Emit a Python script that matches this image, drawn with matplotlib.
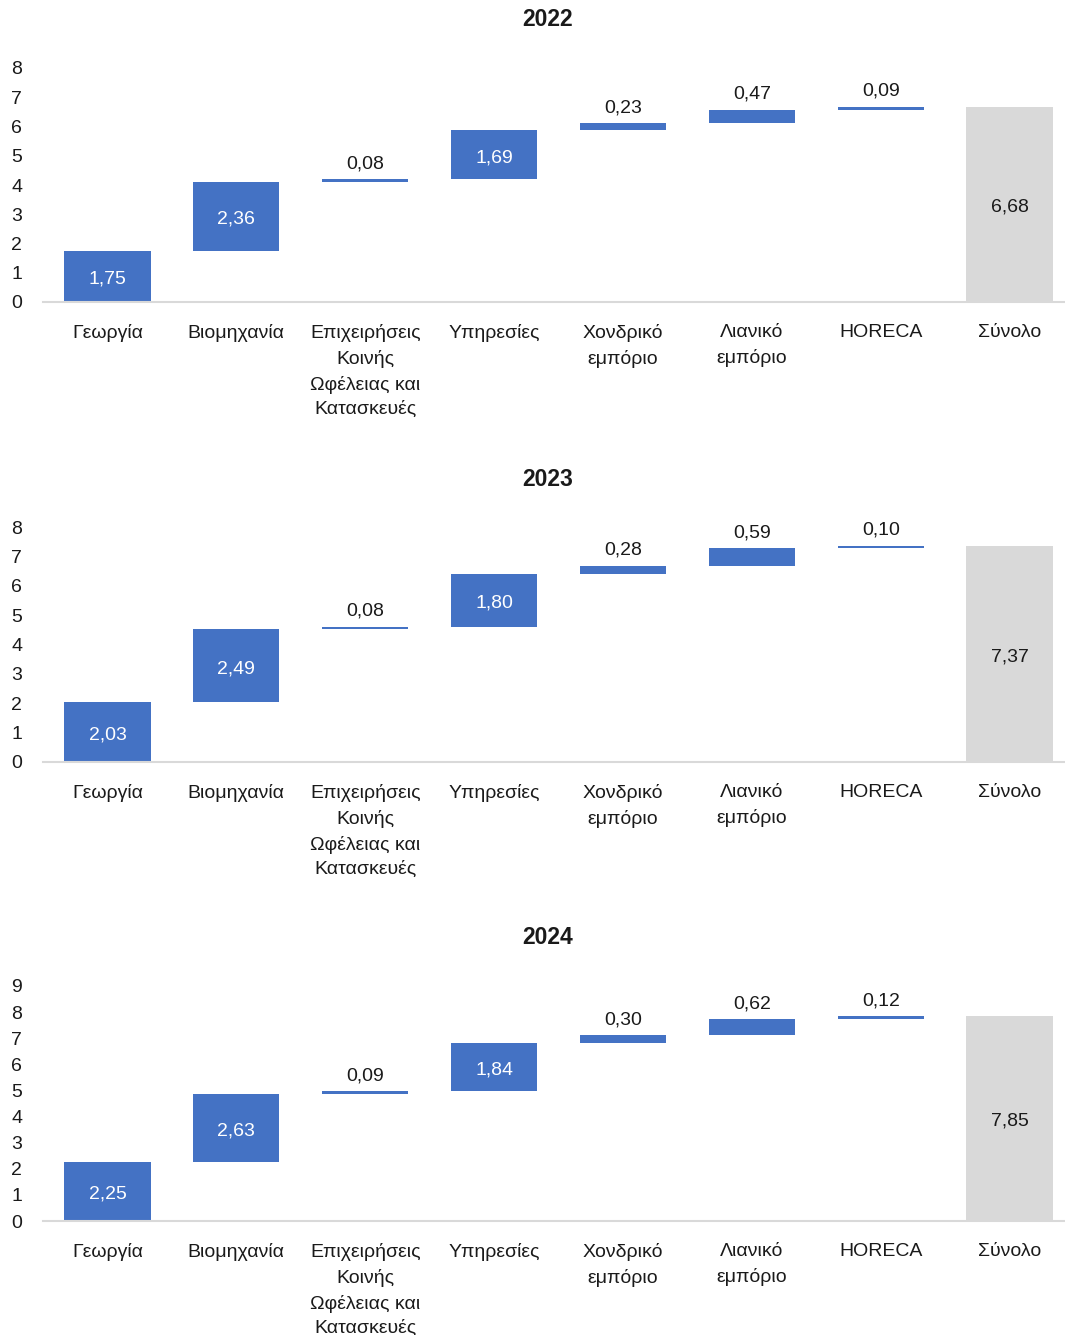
import numpy as np
import matplotlib
matplotlib.use("Agg")
import matplotlib.pyplot as plt

plt.rcParams['font.family'] = ['Liberation Sans', 'DejaVu Sans']

categories = ["Γεωργία", "Βιομηχανία", "Επιχειρήσεις\nΚοινής\nΩφέλειας και\nΚατασκευές",
              "Υπηρεσίες", "Χονδρικό\nεμπόριο", "Λιανικό\nεμπόριο", "HORECA", "Σύνολο"]
years = ["2022", "2023", "2024"]
vals_2022 = [1.75, 2.36, 0.08, 1.69, 0.23, 0.47, 0.09]
vals_2023 = [2.03, 2.49, 0.08, 1.80, 0.28, 0.59, 0.10]
vals_2024 = [2.25, 2.63, 0.09, 1.84, 0.30, 0.62, 0.12]
totals = [6.68, 7.37, 7.85]
ymax = [8, 8, 9]

blue = '#4472C4'
grey = '#D9D9D9'
ink = '#1a1a1a'
W, H = 1065, 1335
fig = plt.figure(figsize=(W / 100, H / 100), dpi=100)

# pixel positions: (y of zero line, y of top tick, y of title)
rows = [(302, 68, 20), (762, 527, 479), (1221, 986, 938)]
x0, x1 = 43, 1065

def fmt(v):
    return f"{v:.2f}".replace('.', ',')

for vals, tot, ym, yr, (yb, yt, ytl) in zip([vals_2022, vals_2023, vals_2024], totals, ymax, years, rows):
    ax = fig.add_axes([x0 / W, 1 - yb / H, (x1 - x0) / W, (yb - yt) / H])
    vals = np.array(vals)
    bottoms = np.concatenate([[0], np.cumsum(vals)[:-1]])
    xs = np.arange(len(vals))
    ax.bar(xs, vals, bottom=bottoms, width=0.67, color=blue)
    ax.bar(len(vals), tot, width=0.67, color=grey)
    for x, v, b in zip(xs, vals, bottoms):
        if v >= 1:
            ax.annotate(fmt(v), (x, b + v / 2), xytext=(0, -2), textcoords='offset points',
                        ha='center', va='center', color='white', fontsize=14)
        else:
            ax.annotate(fmt(v), (x, b + v), xytext=(0, 5), textcoords='offset points',
                        ha='center', va='bottom', color=ink, fontsize=14)
    ax.annotate(fmt(tot), (len(vals), tot / 2), xytext=(0, -2), textcoords='offset points',
                ha='center', va='center', color=ink, fontsize=14)
    ax.set_xlim(-0.5, 7.43)
    ax.set_ylim(0, ym)
    ax.set_yticks(range(ym + 1))
    ax.set_xticks(range(len(categories)))
    ax.set_xticklabels(categories, fontsize=14, color=ink)
    for lab in ax.get_xticklabels():
        lab.set_linespacing(1.55)
    ax.tick_params(axis='y', length=0, pad=15, labelsize=14, labelcolor=ink)
    ax.tick_params(axis='x', length=0, pad=16)
    for s in ['top', 'right', 'left']:
        ax.spines[s].set_visible(False)
    ax.spines['bottom'].set_color(grey)
    ax.spines['bottom'].set_linewidth(1.5)
    fig.text(548 / W, 1 - ytl / H, yr, ha='center', va='center', fontsize=16.5,
             fontweight='bold', color=ink)

fig.savefig('out.png', dpi=100)
